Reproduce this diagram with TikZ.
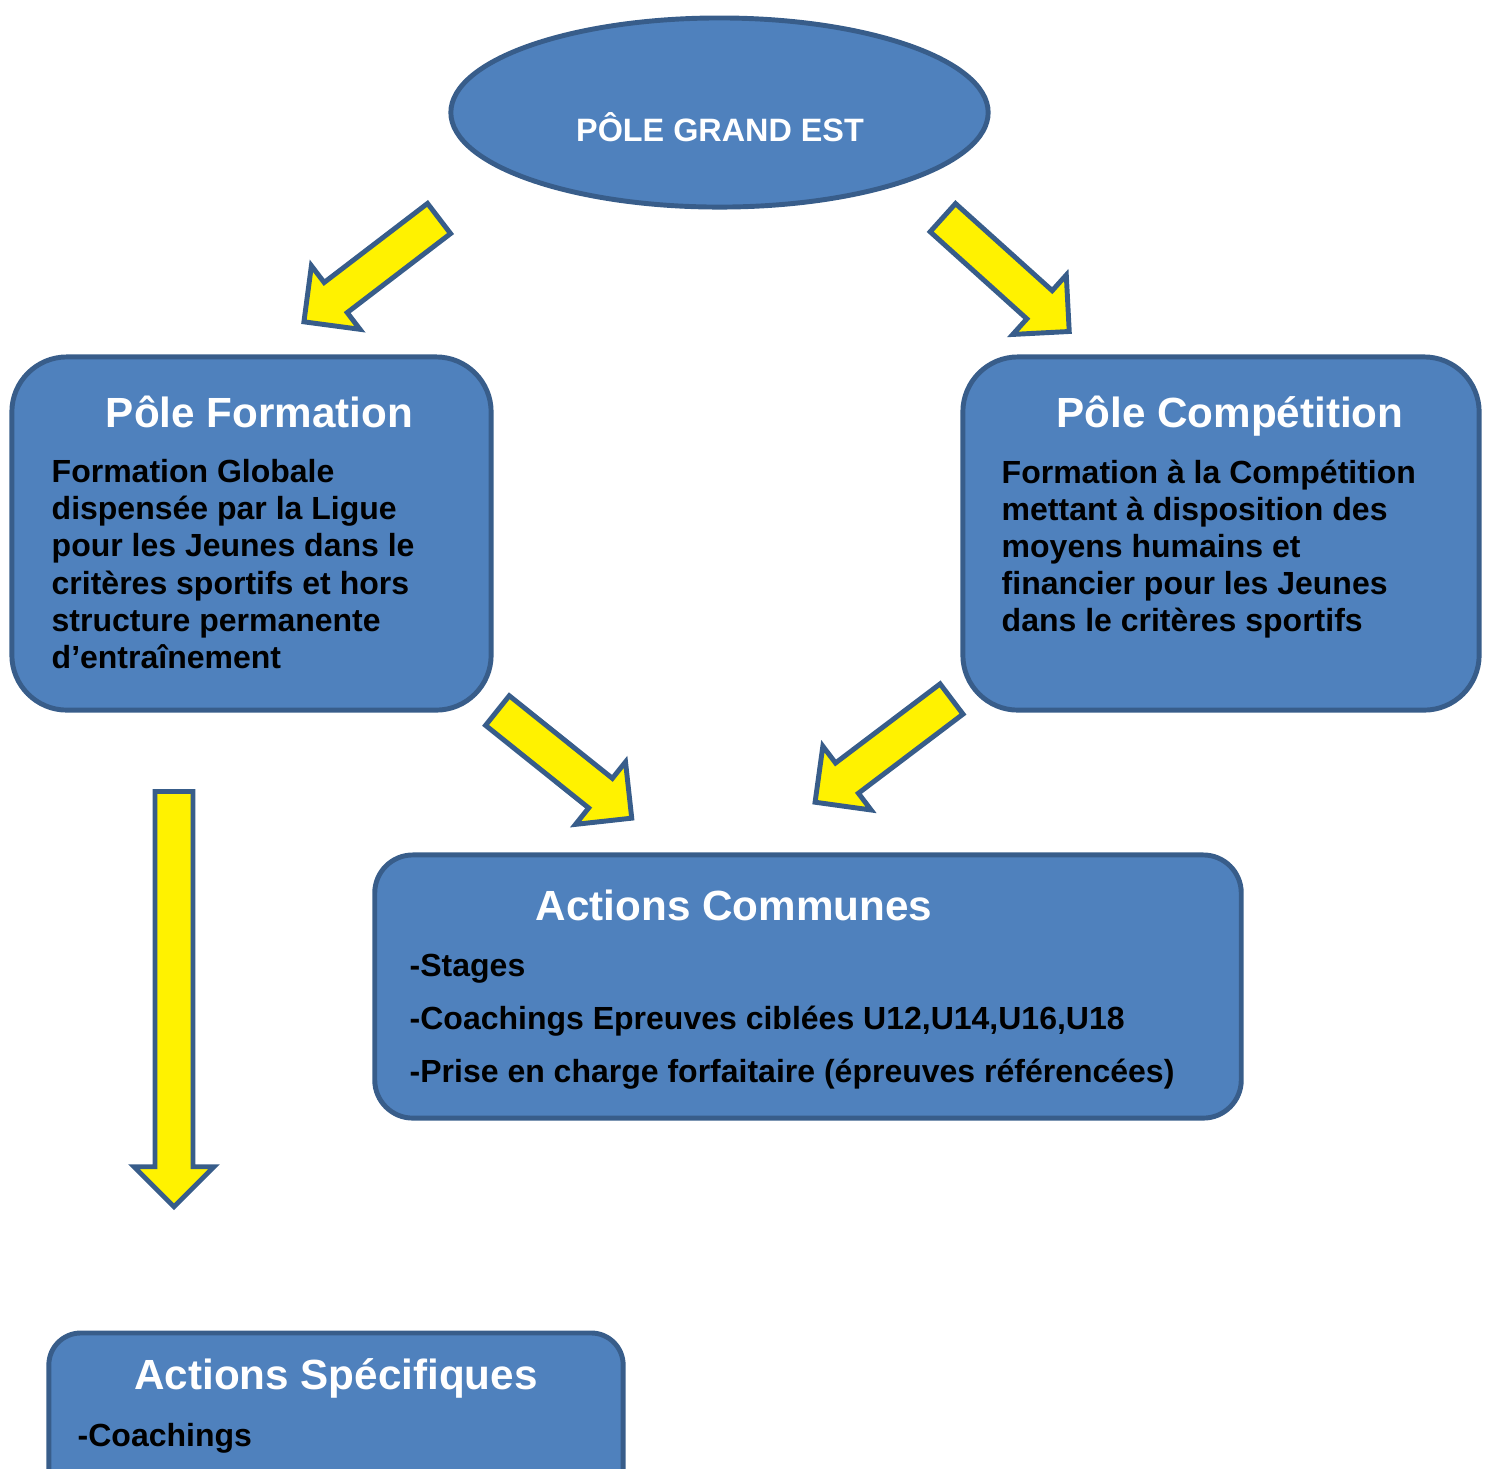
\documentclass[tikz,border=0pt]{standalone}
\usepackage{fontspec}
\setmainfont{Liberation Sans}
\usetikzlibrary{shapes.geometric,shapes.arrows}
\definecolor{poleblue}{HTML}{4F81BD}
\definecolor{poleedge}{HTML}{385D8A}

\begin{document}
\begin{tikzpicture}[x=0.01cm,y=-0.01cm]
\tikzstyle{pole}=[rectangle, draw=poleedge, fill=poleblue, line width=1.4pt, inner sep=0pt]
\tikzstyle{poletitle}=[text=white, font=\fontsize{12}{14}\selectfont\bfseries, anchor=base, inner sep=0pt]
\tikzstyle{poletext}=[text=black, font=\fontsize{9.1}{10.53}\selectfont\bfseries, align=left, anchor=north west, inner sep=0pt]
\tikzstyle{yarrow}=[single arrow, draw=poleedge, fill=yellow, line width=1.4pt, inner xsep=0pt, inner ysep=1.65mm, minimum width=7.5mm, single arrow head extend=2.1mm, anchor=tail]
\useasboundingbox (0,0) rectangle (1491,1468);

% top
\node[ellipse, draw=poleedge, fill=poleblue, line width=1.4pt, minimum width=53.7mm, minimum height=18.9mm, inner sep=0pt] (ge) at (719.5,112.5) {};
\node[text=white, font=\fontsize{9.2}{11}\selectfont\bfseries, anchor=base, inner sep=0pt] (geT) at (720,141) {PÔLE GRAND EST};

% the two poles
\node[pole, minimum width=47.9mm, minimum height=35.3mm, rounded corners=5.5mm] (form) at (251.5,533.5) {};
\node[pole, minimum width=51.6mm, minimum height=35.3mm, rounded corners=5.5mm] (comp) at (1221,533.5) {};
\node[poletitle] (formT) at (259.5,427) {Pôle Formation};
\node[poletitle] (compT) at (1230,427) {Pôle Compétition};
\node[poletext] (formB) at (51,459) {Formation Globale\\dispensée par la Ligue\\pour les Jeunes dans le\\critères sportifs et hors\\structure permanente\\d’entraînement};
\node[poletext] (compB) at (1001,459) {Formation à la Compétition\\mettant à disposition des\\moyens humains et\\financier pour les Jeunes\\dans le critères sportifs};

% actions
\node[pole, minimum width=86.6mm, minimum height=26.3mm, rounded corners=3.8mm] (comm) at (808,986.5) {};
\node[poletitle] (commT) at (734,920) {Actions Communes};
\node[poletext, font=\fontsize{9.1}{15.1}\selectfont\bfseries] (commB) at (409,953) {-Stages\\-Coachings Epreuves ciblées U12,U14,U16,U18\\-Prise en charge forfaitaire (épreuves référencées)};

\node[pole, minimum width=57.4mm, minimum height=16.7mm, rounded corners=3.2mm] (spec) at (336,1416.5) {};
\node[poletitle] (specT) at (336,1389) {Actions Spécifiques};
\node[poletext] (specB) at (77,1423) {-Coachings};

% arrows
\node[yarrow, rotate=-142.6, minimum height=17mm] (a1) at (441,217) {};
\node[yarrow, rotate=-42, minimum height=17mm] (a2) at (941,216) {};
\node[yarrow, rotate=-38.7, minimum height=17.2mm] (a3) at (495.5,709) {};
\node[yarrow, rotate=-142.9, minimum height=17.1mm] (a4) at (953.5,697.5) {};
\node[yarrow, rotate=-90, minimum height=41.5mm] (a5) at (174,789) {};

\end{tikzpicture}
\end{document}
